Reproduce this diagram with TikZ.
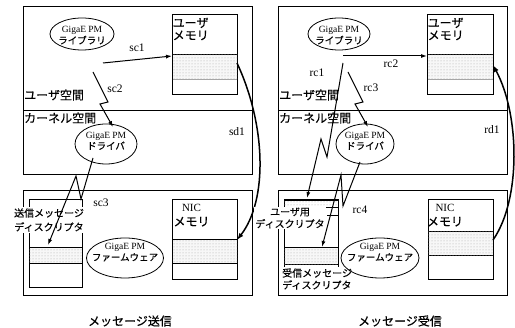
\documentclass[tikz,border=0pt]{standalone}
\usepackage{fontspec}
\setmainfont{Liberation Serif}
\newfontfamily\jp[FakeBold=0.4]{Noto Sans CJK JP}
\usetikzlibrary{shapes.geometric,arrows.meta,patterns}
\begin{document}
\begin{tikzpicture}[x=1pt,y=-1pt,
  box/.style={draw,line width=1pt},
  ell/.style={draw,ellipse,line width=0.8pt,inner sep=0},
  arr/.style={line width=1pt,-{Latex[length=6pt,width=4pt]}},
  bigarr/.style={line width=1.5pt,-{Latex[length=7pt,width=5pt]}},
  band/.style={draw,line width=1pt,fill=gray!6,postaction={pattern=dots,pattern color=gray!70}},
  thinband/.style={draw,line width=0.8pt,postaction={pattern=dots,pattern color=gray!70}},
  jl/.style={font=\jp\fontsize{12}{12.5}\selectfont,inner sep=0},
  js/.style={font=\jp\fontsize{10}{12}\selectfont,inner sep=1pt},
  lbl/.style={font=\fontsize{11.5}{12}\selectfont,inner sep=0},
  et/.style={align=center,inner sep=0,font=\fontsize{9.5}{11}\selectfont},
]
\useasboundingbox (0,0) rectangle (515,328);

% ================= LEFT PANEL =================
\draw[box] (23,7) rectangle (252,175);
\draw[box] (23,111) -- (252,111);
\draw[box] (23,191) rectangle (252,296);
% user memory
\draw[box] (172,15) rectangle (237,95);
\draw[band] (172,55) rectangle (237,80);
\draw[gray!70,line width=1.2pt] (172.5,79.5) -- (236.5,79.5);
\node[jl,align=left,anchor=west] (umL) at (172.5,29) {ユーザ\\メモリ};
% library
\node[ell,minimum width=64pt,minimum height=32pt] (libL) at (82,34) {};
\node[et] (libLt) at (82,35.5) {GigaE PM\\{\jp ライブラリ}};
% space labels
\node[jl,anchor=west] (usL) at (24,95) {ユーザ空間};
\node[jl,anchor=west] (ksL) at (24,118) {カーネル空間};
% driver
\node[ell,minimum width=62pt,minimum height=40pt] (drvL) at (106,144) {};
\node[et] (drvLt) at (106,141) {GigaE PM\\{\jp ドライバ}};
% descriptor box
\draw[box] (29,200) rectangle (82,288);
\draw[band] (29,248) rectangle (82,264);
\node[js,align=center,fill=white,font=\jp\fontsize{10}{14}\selectfont] (sdL) at (49,220) {送信メッセージ\\ディスクリプタ};
% NIC memory
\draw[box] (172,200) rectangle (237,280);
\draw[band] (172,240) rectangle (237,264);
\node[inner sep=0,align=center,font=\fontsize{12}{14}\selectfont] (nicL) at (191.5,215.6) {{\fontsize{11}{14}\selectfont NIC}\\{\jp メモリ}};
% firmware
\node[ell,minimum width=77pt,minimum height=40pt] (fwL) at (125,258) {};
\node[et] (fwLt) at (125,252.5) {GigaE PM\\{\jp ファームウェア}};
% arrows
\coordinate (sc1s) at (103,63);
\coordinate (sc1e) at (172,56);
\draw[arr] (sc1s) -- (sc1e);
\node[lbl] (sc1) at (137,48) {sc1};
\coordinate (sc2a) at (93,72);
\coordinate (sc2b) at (108,102);
\coordinate (sc2c) at (100,104);
\coordinate (sc2d) at (113,127);
\draw[arr] (sc2a) -- (sc2b) -- (sc2c) -- (sc2d);
\node[lbl] (sc2) at (115,89) {sc2};
\coordinate (sc3a) at (93,158);
\coordinate (sc3b) at (81,199);
\coordinate (sc3c) at (76,176);
\coordinate (sc3d) at (48,245);
\draw[arr] (sc3a) -- (sc3b) -- (sc3c) -- (sc3d);
\node[lbl] (sc3) at (101,203) {sc3};
\coordinate (sd1s) at (237,63);
\coordinate (sd1e) at (237,240);
\draw[bigarr] (sd1s) .. controls (266,125) and (268,200) .. (sd1e);
\node[lbl] (sd1) at (237,132) {sd1};
\node[jl] (t1) at (130,321) {メッセージ送信};

% ================= RIGHT PANEL =================
\draw[box] (278,7) rectangle (507,175);
\draw[box] (278,111) -- (507,111);
\draw[box] (278,191) rectangle (507,296);
% user memory
\draw[box] (427,15) rectangle (493,95);
\draw[band] (427,55) rectangle (493,80);
\draw[gray!70,line width=1.2pt] (427.5,79.5) -- (492.5,79.5);
\node[jl,align=left,anchor=west] (umR) at (427.5,29) {ユーザ\\メモリ};
% library
\node[ell,minimum width=62pt,minimum height=32pt] (libR) at (339,34) {};
\node[et] (libRt) at (339,35.5) {GigaE PM\\{\jp ライブラリ}};
% space labels
\node[jl,anchor=west] (usR) at (279,95) {ユーザ空間};
\node[jl,anchor=west] (ksR) at (279,118) {カーネル空間};
% driver
\node[ell,minimum width=58pt,minimum height=40pt] (drvR) at (365,144) {};
\node[et] (drvRt) at (365,141) {GigaE PM\\{\jp ドライバ}};
% descriptor box
\draw[box] (284,200) rectangle (338,288);
\draw[thinband] (284,200) rectangle (338,207);
\draw[band] (284,248) rectangle (338,265);
\draw[box] (327,216) -- (338,216);
\node[js,align=center,fill=white] (udR) at (290,218) {ユーザ用\\ディスクリプタ};
\node[js,align=left,fill=white,anchor=west] (rdR) at (281,279) {受信メッセージ\\ディスクリプタ};
% NIC memory
\draw[box] (428,200) rectangle (493,280);
\draw[band] (428,232) rectangle (493,256);
\node[inner sep=0,align=center,font=\fontsize{12}{14}\selectfont] (nicR) at (445,215.6) {{\fontsize{11}{14}\selectfont NIC}\\{\jp メモリ}};
% firmware
\node[ell,minimum width=78pt,minimum height=40pt] (fwR) at (380,258) {};
\node[et] (fwRt) at (380,252.5) {GigaE PM\\{\jp ファームウェア}};
% arrows
\coordinate (rc2s) at (343,56);
\coordinate (rc2e) at (427,56);
\draw[arr] (rc2s) -- (rc2e);
\node[lbl] (rc2) at (391,64) {rc2};
\coordinate (rc1a) at (343,63);
\coordinate (rc1b) at (327,157);
\coordinate (rc1c) at (321,139);
\coordinate (rc1d) at (307,198);
\draw[arr] (rc1a) -- (rc1b) -- (rc1c) -- (rc1d);
\node[lbl] (rc1) at (317,73) {rc1};
\coordinate (rc3a) at (348,72);
\coordinate (rc3b) at (363,102);
\coordinate (rc3c) at (355,104);
\coordinate (rc3d) at (368,127);
\draw[arr] (rc3a) -- (rc3b) -- (rc3c) -- (rc3d);
\node[lbl] (rc3) at (371,88) {rc3};
\coordinate (rc4a) at (360,162);
\coordinate (rc4b) at (343,206);
\coordinate (rc4c) at (341,175);
\coordinate (rc4d) at (322,247);
\draw[arr] (rc4a) -- (rc4b) -- (rc4c) -- (rc4d);
\node[lbl] (rc4) at (360,210) {rc4};
\coordinate (rd1s) at (493,240);
\coordinate (rd1e) at (493,65);
\draw[bigarr] (rd1s) .. controls (521,200) and (520,115) .. (rd1e);
\node[lbl] (rd1) at (492,130) {rd1};
\node[jl] (t2) at (400,321) {メッセージ受信};
\end{tikzpicture}
\end{document}
